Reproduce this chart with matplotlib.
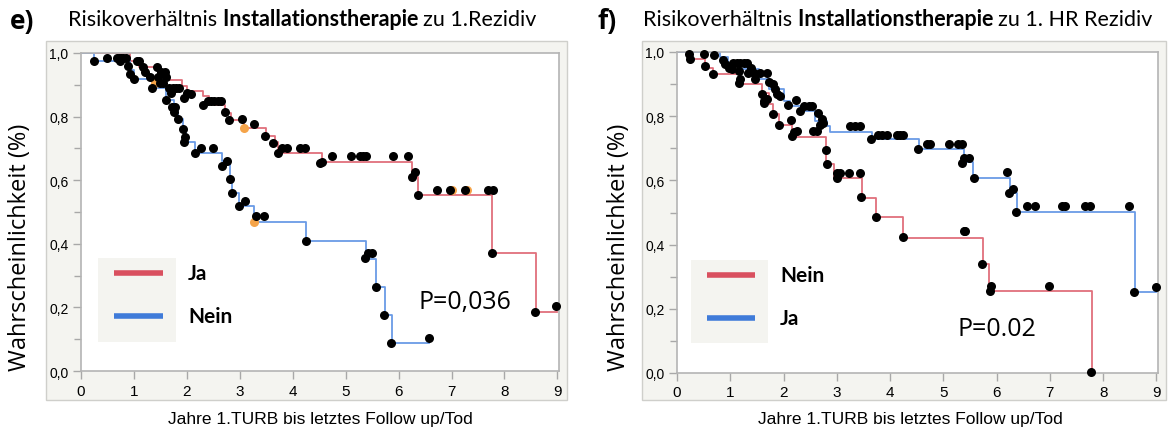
import matplotlib
matplotlib.use("Agg")
import matplotlib.pyplot as plt
from matplotlib.patches import Rectangle
from matplotlib.lines import Line2D
import numpy as np

# --- Kaplan-Meier Kurven, Panel e) (1. Rezidiv) ---
e_ja_t = [0, 0.93, 1.10, 1.45, 1.65, 1.90, 2.00, 2.30, 2.42, 2.55, 2.72, 2.84, 3.08,
          3.49, 3.66, 3.73, 4.55, 6.26, 6.37, 7.77, 8.59, 9.0]
e_ja_s = [1.0, 0.975, 0.955, 0.935, 0.915, 0.895, 0.880, 0.865, 0.850, 0.835, 0.810,
          0.790, 0.765, 0.740, 0.720, 0.687, 0.658, 0.609, 0.553, 0.370, 0.184, 0.184]
e_nein_t = [0, 0.24, 0.93, 1.00, 1.34, 1.61, 1.75, 1.83, 1.92, 1.98, 2.16, 2.66, 2.82,
            2.85, 2.99, 3.26, 4.25, 5.38, 5.58, 5.75, 5.87, 6.58]
e_nein_s = [1.0, 0.975, 0.945, 0.918, 0.889, 0.852, 0.830, 0.792, 0.761, 0.720, 0.687,
            0.661, 0.603, 0.561, 0.520, 0.469, 0.409, 0.352, 0.264, 0.176, 0.087, 0.087]

# zensierte Beobachtungen
e_cens_x = [0.24, 0.50, 0.68, 0.72, 0.76, 0.80, 0.85, 0.74, 0.88, 0.93, 1.00, 1.05, 1.10,
            1.18, 1.21, 1.30, 1.34, 1.43, 1.46, 1.52, 1.58, 1.60, 1.50, 1.55, 1.61, 1.66,
            1.70, 1.74, 1.80, 1.86, 1.72, 1.78, 1.76, 1.83, 1.92, 1.96, 1.95, 1.95, 2.00,
            2.08, 2.16, 2.27, 2.50, 2.31, 2.40, 2.46, 2.52, 2.58, 2.64, 2.72, 2.80, 2.66,
            2.75, 2.82, 2.85, 3.04, 3.26, 2.99, 3.09, 3.31, 3.45, 3.47, 3.63, 3.72, 3.80,
            3.90, 4.14, 4.23, 4.25, 4.52, 4.55, 4.75, 5.10, 5.27, 5.33, 5.39, 5.90, 6.18,
            5.36, 5.43, 5.49, 5.57, 5.73, 5.86, 6.58, 6.26, 6.31, 6.37, 6.72, 6.97, 7.26,
            7.69, 7.78, 7.77, 8.58, 8.97]
e_cens_y = [0.976, 0.985, 0.985, 0.985, 0.985, 0.985, 0.985, 0.975, 0.960, 0.935, 0.918,
            0.974, 0.974, 0.955, 0.940, 0.925, 0.889, 0.955, 0.925, 0.940, 0.940, 0.925,
            0.905, 0.905, 0.852, 0.890, 0.875, 0.890, 0.890, 0.890, 0.830, 0.830, 0.815,
            0.792, 0.761, 0.735, 0.720, 0.860, 0.875, 0.870, 0.687, 0.700, 0.700, 0.837,
            0.850, 0.850, 0.850, 0.850, 0.850, 0.815, 0.790, 0.645, 0.661, 0.603, 0.561,
            0.791, 0.776, 0.520, 0.535, 0.486, 0.486, 0.740, 0.718, 0.687, 0.700, 0.700,
            0.700, 0.700, 0.409, 0.655, 0.658, 0.675, 0.675, 0.675, 0.675, 0.675, 0.675,
            0.675, 0.354, 0.371, 0.371, 0.264, 0.176, 0.087, 0.105, 0.609, 0.625, 0.553,
            0.569, 0.569, 0.569, 0.569, 0.569, 0.370, 0.186, 0.204]
e_orange_x = [1.39, 3.08, 3.26, 7.01, 7.30]
e_orange_y = [0.905, 0.765, 0.469, 0.569, 0.569]

# --- Panel f) (1. HR Rezidiv) ---
f_nein_t = [0, 0.25, 0.53, 0.67, 1.19, 1.60, 1.72, 1.81, 1.92, 2.16, 2.80, 2.94, 3.47,
            3.74, 4.25, 5.74, 5.86, 7.79]
f_nein_s = [1.0, 0.977, 0.951, 0.931, 0.900, 0.871, 0.839, 0.806, 0.772, 0.735, 0.650,
            0.606, 0.545, 0.485, 0.422, 0.339, 0.254, 0.0]
f_ja_t = [0, 0.80, 0.95, 1.19, 1.54, 1.72, 2.00, 2.13, 2.34, 2.60, 2.81, 2.88, 3.66, 4.55,
          5.38, 5.56, 6.25, 6.38, 8.60, 9.0]
f_ja_s = [1.0, 0.985, 0.965, 0.948, 0.917, 0.884, 0.847, 0.832, 0.816, 0.785, 0.768,
          0.752, 0.728, 0.697, 0.658, 0.609, 0.560, 0.502, 0.251, 0.251]

f_cens_x = [0.22, 0.25, 0.50, 0.69, 0.53, 0.67, 0.87, 0.91, 0.97, 1.03, 1.06, 1.12, 1.18,
            1.25, 1.31, 1.16, 1.19, 1.16, 1.34, 1.38, 1.44, 1.47, 1.56, 1.69, 1.72, 1.81,
            1.84, 1.88, 1.94, 1.59, 1.63, 1.69, 1.64, 1.81, 1.92, 2.08, 2.24, 2.31, 2.38,
            2.47, 2.53, 2.64, 2.72, 2.75, 2.69, 2.14, 2.16, 2.19, 2.26, 2.56, 2.63, 2.80,
            2.81, 3.00, 3.00, 3.06, 3.22, 3.44, 3.46, 3.74, 3.25, 3.35, 3.44, 3.64, 3.78,
            3.85, 3.94, 4.13, 4.18, 4.24, 4.53, 4.69, 4.75, 5.10, 5.28, 5.35, 5.35, 5.38,
            5.49, 5.57, 6.19, 6.24, 6.30, 6.37, 6.57, 6.72, 7.22, 7.29, 7.66, 7.75, 8.49,
            8.58, 8.99, 5.38, 5.41, 5.72, 5.87, 5.90, 6.99, 7.77, 4.25]
f_cens_y = [0.993, 0.979, 0.993, 0.990, 0.957, 0.931, 0.975, 0.962, 0.951, 0.946, 0.965,
            0.965, 0.965, 0.965, 0.965, 0.941, 0.915, 0.903, 0.936, 0.951, 0.936, 0.917,
            0.936, 0.936, 0.905, 0.899, 0.884, 0.868, 0.863, 0.870, 0.847, 0.855, 0.840,
            0.806, 0.772, 0.834, 0.850, 0.817, 0.832, 0.832, 0.832, 0.811, 0.792, 0.780,
            0.772, 0.788, 0.737, 0.751, 0.754, 0.754, 0.754, 0.694, 0.650, 0.606, 0.622,
            0.622, 0.622, 0.622, 0.547, 0.486, 0.768, 0.768, 0.768, 0.728, 0.742, 0.742,
            0.742, 0.742, 0.742, 0.742, 0.697, 0.712, 0.712, 0.712, 0.712, 0.712, 0.655,
            0.671, 0.671, 0.609, 0.625, 0.560, 0.574, 0.502, 0.519, 0.519, 0.519, 0.519,
            0.519, 0.519, 0.519, 0.251, 0.267, 0.441, 0.441, 0.341, 0.256, 0.272, 0.270,
            0.004, 0.424]

x_ticks = [0, 1, 2, 3, 4, 5, 6, 7, 8, 9]
y_ticks = [0.0, 0.2, 0.4, 0.6, 0.8, 1.0]
y_ticklabels = ["0,0", "0,2", "0,4", "0,6", "0,8", "1,0"]

RED = "#e0707c"
BLUE = "#6a9be6"
RED_KEY = "#d9505f"
BLUE_KEY = "#3f7bd9"
PANEL = "#f4f4f0"
NARROW = ["Liberation Sans Narrow", "Liberation Sans"]

W, H = 1169, 435
fig = plt.figure(figsize=(W / 100, H / 100), dpi=100)


def fx(px):
    return px / W


def fy(py):
    return 1 - py / H


def panel(x0, x1):
    fig.patches.append(Rectangle((fx(x0), fy(401)), fx(x1) - fx(x0), fy(42) - fy(401),
                                 transform=fig.transFigure, facecolor=PANEL,
                                 edgecolor="#cfcfcb", lw=1, zorder=-5))


def setup(ax):
    ax.set_zorder(1)
    ax.set_xlim(0, 9.03)
    ax.set_ylim(0, 1.0)
    ax.set_xticks(x_ticks)
    ax.set_xticklabels([str(t) for t in x_ticks], fontfamily=NARROW, fontsize=11)
    ax.set_yticks(y_ticks)
    ax.set_yticklabels(y_ticklabels, fontfamily="Liberation Sans", fontsize=10)
    ax.set_yticks(np.arange(0.1, 1.0, 0.2), minor=True)
    ax.tick_params(which="both", direction="out", color="#a8a8a8", width=1)
    ax.tick_params(which="major", length=6, pad=3)
    ax.tick_params(which="minor", length=5)
    for s in ax.spines.values():
        s.set_color("#b4b4b4")
        s.set_linewidth(1.2)
    ax.set_facecolor("white")


def legend(ax, labels, colors, box, line_y, line_x, text_x):
    ax.add_patch(Rectangle((box[0], box[1]), box[2] - box[0], box[3] - box[1],
                           transform=ax.transAxes, facecolor=PANEL, edgecolor="none",
                           zorder=4))
    for lab, col, ly in zip(labels, colors, line_y):
        ax.add_line(Line2D(line_x, [ly, ly], transform=ax.transAxes, color=col, lw=4,
                           solid_capstyle="butt", zorder=5))
        ax.text(text_x, ly, lab, transform=ax.transAxes, fontfamily="Lato",
                fontweight="bold", fontsize=15, va="center", ha="left", zorder=5)


panel(46, 567)
panel(642, 1166)

# ---------- e) ----------
ax1 = fig.add_axes([fx(81), fy(372), fx(559) - fx(81), fy(54) - fy(372)])
setup(ax1)
ax1.step(e_ja_t, e_ja_s, where="post", color=RED, lw=1.3, zorder=2)
ax1.step(e_nein_t, e_nein_s, where="post", color=BLUE, lw=1.3, zorder=2)
ax1.plot(e_orange_x, e_orange_y, "o", color="#f5a449", ms=6.5, mew=0, zorder=3,
         clip_on=False)
ax1.plot(e_cens_x, e_cens_y, "o", color="black", ms=6.5, mew=0, zorder=3, clip_on=False)
legend(ax1, ["Ja", "Nein"], [RED_KEY, BLUE_KEY], (0.036, 0.091, 0.199, 0.355),
       [0.308, 0.173], [0.069, 0.172], 0.224)
ax1.text(0.803, 0.22, "P=0,036", transform=ax1.transAxes, fontfamily="Open Sans",
         fontsize=18, ha="center", va="center")

# ---------- f) ----------
ax2 = fig.add_axes([fx(677), fy(374), fx(1158) - fx(677), fy(53) - fy(374)])
setup(ax2)
ax2.step(f_nein_t, f_nein_s, where="post", color=RED, lw=1.3, zorder=2)
ax2.step(f_ja_t, f_ja_s, where="post", color=BLUE, lw=1.3, zorder=2)
ax2.plot(f_cens_x, f_cens_y, "o", color="black", ms=6.5, mew=0, zorder=3, clip_on=False)
legend(ax2, ["Nein", "Ja"], [RED_KEY, BLUE_KEY], (0.029, 0.093, 0.189, 0.352),
       [0.305, 0.171], [0.062, 0.162], 0.214)
ax2.text(0.665, 0.14, "P=0.02", transform=ax2.transAxes, fontfamily="Open Sans",
         fontsize=18, ha="center", va="center")

# Titel, Achsenbeschriftungen
for x_letter, letter, x_title, rest in [(10, "e)", 68, "zu 1.Rezidiv"),
                                        (597, "f)", 643, "zu 1. HR Rezidiv")]:
    fig.text(fx(x_letter), fy(22), letter, fontfamily="Open Sans", fontweight="bold",
             fontsize=19, va="center", ha="left")
    t1 = fig.text(fx(x_title), fy(20), "Risikoverhältnis ", fontfamily="Lato",
                  fontsize=15.5, va="center", ha="left")
    fig.canvas.draw()
    bb = t1.get_window_extent()
    t2 = fig.text(bb.x1 / W, fy(20), "Installationstherapie ", fontfamily="Lato",
                  fontweight="bold", fontsize=15.5, va="center", ha="left")
    fig.canvas.draw()
    bb = t2.get_window_extent()
    fig.text(bb.x1 / W, fy(20), rest, fontfamily="Lato", fontsize=15.5, va="center",
             ha="left")

for x_ylab, x_xlab in [(20, 320), (619, 910)]:
    fig.text(fx(x_ylab), fy(247), "Wahrscheinlichkeit (%)", fontfamily="Open Sans",
             fontsize=17, rotation=90, va="center", ha="center")
    fig.text(fx(x_xlab), fy(420), "Jahre 1.TURB bis letztes Follow up/Tod",
             fontfamily=NARROW, fontsize=12.5, va="center", ha="center")

fig.savefig("out.png", dpi=100)
